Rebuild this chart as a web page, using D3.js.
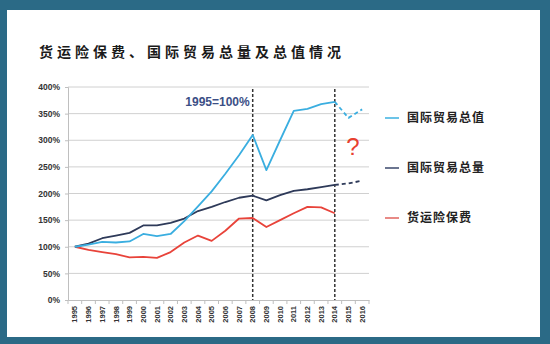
<!DOCTYPE html>
<html>
<head>
<meta charset="utf-8">
<script src="https://d3js.org/d3.v7.min.js"></script>
<style>
  html, body { margin: 0; padding: 0; background: #2b6a86; }
  svg { display: block; }
</style>
</head>
<body>
<svg id="chart" width="550" height="344"></svg>
<script>
// ---- data ----
const years = ["1995","1996","1997","1998","1999","2000","2001","2002","2003","2004","2005","2006","2007","2008","2009","2010","2011","2012","2013","2014","2015","2016"];
const yTicks = [0, 0.5, 1, 1.5, 2, 2.5, 3, 3.5, 4];
// 国际贸易总值 (1995-2014 actual, 2014-2016 dashed)
const tradeValue = [100,104,109,108,110,124,120,124,148,176,204,237,272,310,244,300,355,359,368,372];
const tradeValueForecast = [372,342,358];
// 国际贸易总量
const tradeVolume = [100,106,116,121,126,140,140,145,153,167,175,184,192,196,187,197,205,208,212,216];
const tradeVolumeForecast = [216,219,224];
// 货运险保费
const premium = [100,94,90,86,80,81,79,90,108,121,111,130,153,154,137,150,163,175,174,163];
const markerYears = ["2008","2014"];
const seriesNames = ["国际贸易总值","国际贸易总量","货运险保费"];
const title = "货运险保费、国际贸易总量及总值情况";

// ---- drawing ----
const colors = { value: "#3aaee0", volume: "#2e3a59", premium: "#e8433a" };
const legendColors = ["#6cc4e8", "#6b7590", "#e88a86"];

const svg = d3.select("#chart");
svg.append("rect").attr("x", 7).attr("y", 10).attr("width", 533).attr("height", 327).attr("fill", "#ffffff");

svg.append("text")
  .attr("x", 39).attr("y", 57)
  .attr("font-family", "'Noto Sans CJK SC', sans-serif")
  .attr("font-weight", "bold").attr("font-size", 14)
  .attr("letter-spacing", "4px").attr("fill", "#1a1a1a")
  .text(title);

const x = d3.scaleBand().domain(years).range([68, 369]).paddingInner(0).paddingOuter(0);
const y = d3.scaleLinear().domain([0, 4]).range([300, 87]);
const cx = yr => x(yr) + x.bandwidth() / 2;

// gridlines
svg.append("g").selectAll("line").data(yTicks.filter(t => t > 0)).join("line")
  .attr("x1", 68).attr("x2", 369)
  .attr("y1", d => y(d)).attr("y2", d => y(d))
  .attr("stroke", "#d0d0d0").attr("stroke-width", 1);

// y axis
const yAxis = d3.axisLeft(y).tickValues(yTicks).tickFormat(d3.format(".0%")).tickSize(3).tickPadding(5);
const gy = svg.append("g").attr("transform", "translate(68,0)").call(yAxis);
gy.select(".domain").attr("stroke", "#bfbfbf");
gy.selectAll(".tick line").attr("stroke", "#bfbfbf");
gy.selectAll(".tick text")
  .attr("font-family", "'Liberation Sans', Arial, sans-serif")
  .attr("font-weight", "bold").attr("font-size", 8.5).attr("fill", "#333");

// x axis
const xAxis = d3.axisBottom(x).tickSize(0).tickPadding(0);
const gx = svg.append("g").attr("transform", "translate(0,300)").call(xAxis);
gx.select(".domain").attr("stroke", "#bfbfbf");
gx.selectAll(".tick text")
  .attr("font-family", "'Liberation Sans', Arial, sans-serif")
  .attr("font-weight", "bold").attr("font-size", 7.5).attr("fill", "#333")
  .attr("text-anchor", "end")
  .attr("transform", "rotate(-90)")
  .attr("x", -6).attr("y", 0).attr("dy", "0.35em");
// boundary ticks
const bounds = years.map(d => x(d)).concat([x(years[years.length - 1]) + x.bandwidth()]);
svg.append("g").selectAll("line").data(bounds).join("line")
  .attr("x1", d => d).attr("x2", d => d).attr("y1", 300).attr("y2", 304)
  .attr("stroke", "#bfbfbf");

// vertical dashed markers
svg.append("g").selectAll("line").data(markerYears).join("line")
  .attr("x1", d => cx(d)).attr("x2", d => cx(d))
  .attr("y1", 89).attr("y2", 300)
  .attr("stroke", "#333").attr("stroke-width", 1.5).attr("stroke-dasharray", "3,2");

const line = d3.line().x(d => cx(d.year)).y(d => y(d.v / 100));
const toPts = (arr, start) => arr.map((v, i) => ({ year: years[start + i], v }));

function drawLine(arr, start, color, dashed) {
  svg.append("path").datum(toPts(arr, start))
    .attr("d", line).attr("fill", "none")
    .attr("stroke", color).attr("stroke-width", 1.8)
    .attr("stroke-linejoin", "round")
    .attr("stroke-dasharray", dashed ? "4,3" : null);
}
drawLine(premium, 0, colors.premium, false);
drawLine(tradeVolume, 0, colors.volume, false);
drawLine(tradeVolumeForecast, 19, colors.volume, true);
drawLine(tradeValue, 0, colors.value, false);
drawLine(tradeValueForecast, 19, colors.value, true);

// annotation
svg.append("text")
  .attr("x", cx("2008") - 3).attr("y", 106)
  .attr("text-anchor", "end")
  .attr("font-family", "'Liberation Sans', Arial, sans-serif")
  .attr("font-weight", "bold").attr("font-size", 12).attr("fill", "#3c4f86")
  .text("1995=100%");

svg.append("text")
  .attr("x", 353).attr("y", 155)
  .attr("text-anchor", "middle")
  .attr("font-family", "'Liberation Sans', Arial, sans-serif")
  .attr("font-size", 24).attr("fill", "#e8402f")
  .text("?");

// legend
const legendY = [118, 168, 218];
const lg = svg.append("g").selectAll("g").data(seriesNames).join("g")
  .attr("transform", (d, i) => `translate(385,${legendY[i]})`);
lg.append("line").attr("x1", 0).attr("x2", 14).attr("y1", 0).attr("y2", 0)
  .attr("stroke", (d, i) => legendColors[i]).attr("stroke-width", 2);
lg.append("text").attr("x", 22).attr("y", 0).attr("dy", "0.36em")
  .attr("font-family", "'Noto Sans CJK SC', sans-serif")
  .attr("font-weight", "bold").attr("font-size", 12)
  .attr("letter-spacing", "1px").attr("fill", "#222")
  .text(d => d);
</script>
</body>
</html>
